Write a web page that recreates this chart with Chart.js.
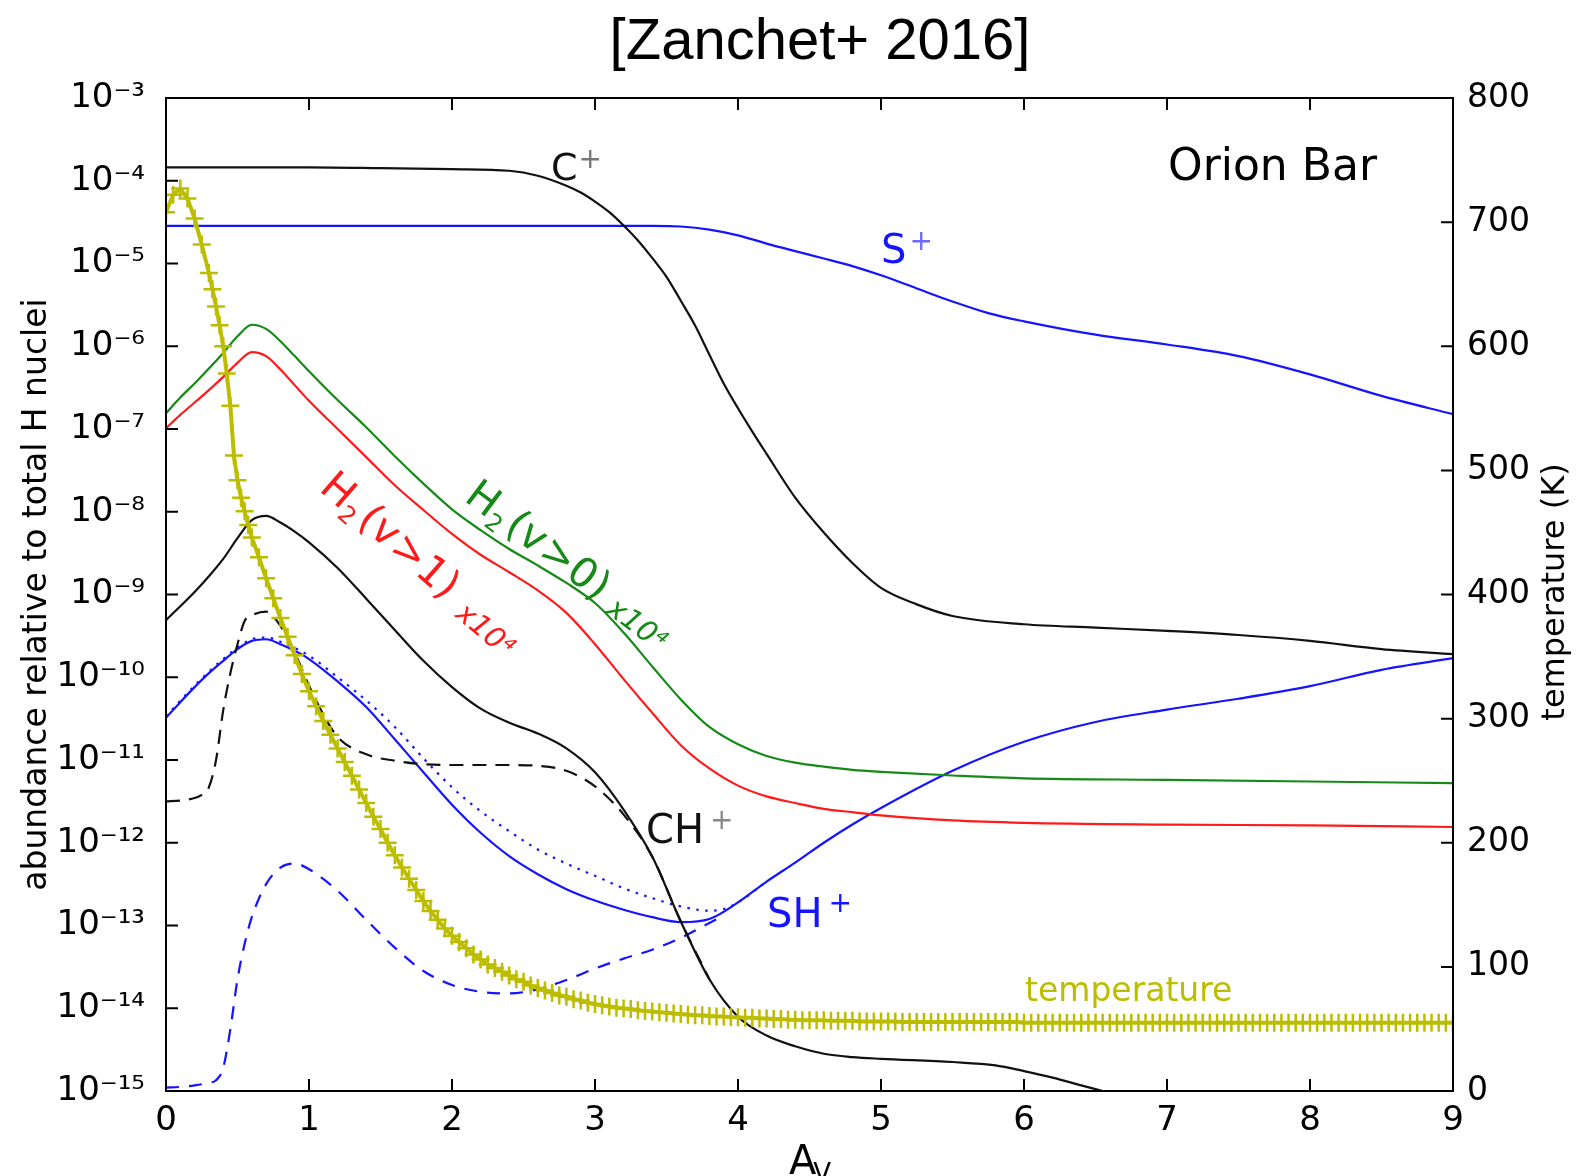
<!DOCTYPE html>
<html>
<head>
<meta charset="utf-8">
<script src="https://cdn.jsdelivr.net/npm/chart.js@4.4.1/dist/chart.umd.min.js"></script>
<style>
  html, body { margin: 0; padding: 0; background: #fff; }
  #wrap { width: 1593px; height: 1176px; }
</style>
</head>
<body>
<div id="wrap"><canvas id="chart"></canvas></div>
<script>
// tick labels
const xTicks = [0, 1, 2, 3, 4, 5, 6, 7, 8, 9];
const yTickExponents = [-15, -14, -13, -12, -11, -10, -9, -8, -7, -6, -5, -4, -3];
const tempTicks = [0, 100, 200, 300, 400, 500, 600, 700, 800];

// C+ (black solid)
const cPlusAv = [0, 0.5, 1, 1.5, 2, 2.4, 2.6, 2.8, 2.9, 3, 3.1, 3.2, 3.3, 3.4, 3.5, 3.6, 3.7, 3.8, 3.9, 4, 4.1, 4.2, 4.4, 4.6, 4.8, 5, 5.25, 5.5, 6, 6.5, 7, 7.5, 8, 8.5, 9];
const cPlus = [1.45e-4, 1.45e-4, 1.45e-4, 1.42e-4, 1.38e-4, 1.32e-4, 1.15e-4, 8.7e-5, 7.2e-5, 5.6e-5, 4.17e-5, 2.88e-5, 1.9e-5, 1.17e-5, 6.9e-6, 3.55e-6, 1.78e-6, 7.9e-7, 3.55e-7, 1.78e-7, 9.3e-8, 5.0e-8, 1.48e-8, 5.6e-9, 2.4e-9, 1.2e-9, 7.6e-10, 5.5e-10, 4.37e-10, 3.98e-10, 3.63e-10, 3.24e-10, 2.75e-10, 2.19e-10, 1.9e-10];

// S+ (blue solid)
const sPlusAv = [0, 1, 2, 3, 3.4, 3.6, 3.8, 4, 4.2, 4.4, 4.6, 4.8, 5, 5.25, 5.5, 5.75, 6, 6.5, 7, 7.5, 8, 8.5, 9];
const sPlus = [2.85e-5, 2.85e-5, 2.85e-5, 2.85e-5, 2.85e-5, 2.8e-5, 2.57e-5, 2.19e-5, 1.74e-5, 1.41e-5, 1.15e-5, 9.3e-6, 7.2e-6, 5.0e-6, 3.47e-6, 2.51e-6, 2.0e-6, 1.38e-6, 1.05e-6, 7.6e-7, 4.57e-7, 2.51e-7, 1.51e-7];

// H2(v>0) x1e4 (green) and H2(v>1) x1e4 (red)
const h2Av = [0, 0.1, 0.2, 0.3, 0.4, 0.5, 0.6, 0.7, 0.8, 0.9, 1, 1.2, 1.4, 1.6, 1.8, 2, 2.2, 2.4, 2.6, 2.8, 3, 3.2, 3.4, 3.6, 3.8, 4, 4.2, 4.4, 4.6, 4.8, 5, 5.5, 6, 7, 8, 9];
const h2v0 = [1.55e-7, 2.4e-7, 3.55e-7, 5.37e-7, 8.3e-7, 1.32e-6, 1.82e-6, 1.62e-6, 1.15e-6, 7.6e-7, 5.0e-7, 2.24e-7, 1.05e-7, 4.68e-8, 2.19e-8, 1.07e-8, 6.0e-9, 3.55e-9, 2.24e-9, 1.38e-9, 7.9e-10, 3.47e-10, 1.35e-10, 5.4e-11, 2.51e-11, 1.55e-11, 1.12e-11, 9.3e-12, 8.3e-12, 7.6e-12, 7.2e-12, 6.5e-12, 6.0e-12, 5.75e-12, 5.5e-12, 5.25e-12];
const h2v1 = [1.02e-7, 1.48e-7, 2.09e-7, 2.95e-7, 4.27e-7, 6.3e-7, 8.5e-7, 7.6e-7, 5.25e-7, 3.39e-7, 2.19e-7, 1.0e-7, 4.57e-8, 2.09e-8, 1.05e-8, 5.4e-9, 3.02e-9, 1.86e-9, 1.12e-9, 6.0e-10, 2.51e-10, 9.5e-11, 3.72e-11, 1.51e-11, 7.9e-12, 4.9e-12, 3.63e-12, 3.02e-12, 2.57e-12, 2.34e-12, 2.14e-12, 1.86e-12, 1.74e-12, 1.66e-12, 1.62e-12, 1.55e-12];

// CH+ (black solid) and second model (black dashed)
const chPlusAv = [0, 0.1, 0.2, 0.3, 0.4, 0.5, 0.6, 0.7, 0.8, 0.9, 1, 1.2, 1.4, 1.6, 1.8, 2, 2.2, 2.4, 2.6, 2.8, 3, 3.2, 3.4, 3.6, 3.8, 4, 4.2, 4.4, 4.6, 4.8, 5, 5.5, 5.8, 6, 6.2, 6.4, 6.55];
const chPlus = [4.9e-10, 7.2e-10, 1.07e-9, 1.66e-9, 2.69e-9, 4.79e-9, 7.9e-9, 8.9e-9, 7.4e-9, 5.75e-9, 4.27e-9, 2.09e-9, 8.9e-10, 3.72e-10, 1.58e-10, 7.6e-11, 4.17e-11, 2.82e-11, 2.09e-11, 1.38e-11, 7.1e-12, 2.51e-12, 6.8e-13, 1.12e-13, 2.24e-14, 7.9e-15, 4.68e-15, 3.47e-15, 2.82e-15, 2.57e-15, 2.45e-15, 2.24e-15, 2.04e-15, 1.74e-15, 1.45e-15, 1.17e-15, 1.0e-15];
const chDashAv = [0, 0.1, 0.2, 0.25, 0.3, 0.35, 0.4, 0.45, 0.5, 0.55, 0.6, 0.7, 0.8, 0.9, 1.0, 1.1, 1.2, 1.4, 1.6, 1.8, 2.0, 2.4, 2.6, 2.8, 3.0, 3.2, 3.4, 3.6, 3.8];
const chDash = [3.16e-12, 3.24e-12, 3.47e-12, 3.8e-12, 4.68e-12, 1.0e-11, 3.98e-11, 1.12e-10, 2.51e-10, 4.79e-10, 5.6e-10, 6.2e-10, 4.17e-10, 2.0e-10, 7.9e-11, 3.55e-11, 1.9e-11, 1.17e-11, 9.8e-12, 8.9e-12, 8.7e-12, 8.7e-12, 8.5e-12, 7.4e-12, 4.8e-12, 2.19e-12, 6.8e-13, 1.12e-13, 2.24e-14];

// SH+ (blue solid, dotted, dashed)
const shPlusAv = [0, 0.1, 0.2, 0.3, 0.4, 0.5, 0.6, 0.7, 0.8, 0.9, 1, 1.2, 1.4, 1.6, 1.8, 2, 2.2, 2.4, 2.6, 2.8, 3, 3.2, 3.4, 3.6, 3.8, 4, 4.2, 4.4, 4.6, 4.8, 5, 5.5, 6, 6.5, 7, 7.5, 8, 8.5, 9];
const shPlus = [3.24e-11, 5.0e-11, 7.6e-11, 1.12e-10, 1.58e-10, 2.19e-10, 2.75e-10, 2.88e-10, 2.51e-10, 2.09e-10, 1.66e-10, 8.9e-11, 4.37e-11, 1.78e-11, 7.1e-12, 2.88e-12, 1.32e-12, 6.9e-13, 4.17e-13, 2.75e-13, 2.0e-13, 1.55e-13, 1.26e-13, 1.1e-13, 1.2e-13, 1.9e-13, 3.39e-13, 5.75e-13, 1.0e-12, 1.66e-12, 2.63e-12, 7.4e-12, 1.66e-11, 2.88e-11, 4.07e-11, 5.5e-11, 7.8e-11, 1.23e-10, 1.7e-10];
const shDotAv = [0, 0.2, 0.4, 0.6, 0.7, 0.8, 1.0, 1.2, 1.4, 1.6, 1.8, 2.0, 2.2, 2.4, 2.6, 2.8, 3.0, 3.2, 3.4, 3.6, 3.8, 3.9, 4.0, 4.2];
const shDot = [3.39e-11, 7.9e-11, 1.66e-10, 2.88e-10, 3.02e-10, 2.69e-10, 1.82e-10, 1.0e-10, 5.25e-11, 2.51e-11, 1.05e-11, 4.68e-12, 2.4e-12, 1.38e-12, 8.3e-13, 5.6e-13, 3.98e-13, 2.82e-13, 2.14e-13, 1.7e-13, 1.51e-13, 1.58e-13, 1.9e-13, 3.39e-13];
const shDashAv = [0, 0.1, 0.2, 0.3, 0.35, 0.4, 0.45, 0.5, 0.55, 0.6, 0.7, 0.8, 0.9, 1.0, 1.2, 1.4, 1.6, 1.8, 2.0, 2.2, 2.4, 2.6, 2.8, 3.0, 3.2, 3.4, 3.6, 3.8, 3.9];
const shDash = [1.1e-15, 1.12e-15, 1.17e-15, 1.26e-15, 1.35e-15, 1.9e-15, 5.6e-15, 2.24e-14, 6.0e-14, 1.26e-13, 3.16e-13, 5.0e-13, 5.6e-13, 4.79e-13, 2.63e-13, 1.17e-13, 5.4e-14, 2.82e-14, 1.91e-14, 1.58e-14, 1.51e-14, 1.7e-14, 2.19e-14, 3.02e-14, 3.98e-14, 5.1e-14, 7.1e-14, 1.07e-13, 1.32e-13];

// temperature (K), right axis
const tempAv = [0, 0.05, 0.1, 0.15, 0.2, 0.25, 0.3, 0.325, 0.35, 0.375, 0.4, 0.425, 0.45, 0.475, 0.5, 0.525, 0.55, 0.575, 0.6, 0.65, 0.7, 0.75, 0.8, 0.85, 0.9, 0.95,
  1, 1.05, 1.1, 1.15, 1.2, 1.25, 1.3, 1.35, 1.4, 1.45, 1.5, 1.55, 1.6, 1.65, 1.7, 1.75, 1.8, 1.85, 1.9, 1.95,
  2, 2.05, 2.1, 2.15, 2.2, 2.25, 2.3, 2.35, 2.4, 2.45, 2.5, 2.55, 2.6, 2.65, 2.7, 2.75, 2.8, 2.85, 2.9, 2.95,
  3, 3.05, 3.1, 3.15, 3.2, 3.25, 3.3, 3.35, 3.4, 3.45, 3.5, 3.55, 3.6, 3.65, 3.7, 3.75, 3.8, 3.85, 3.9, 3.95,
  4, 4.05, 4.1, 4.15, 4.2, 4.25, 4.3, 4.35, 4.4, 4.45, 4.5, 4.55, 4.6, 4.65, 4.7, 4.75, 4.8, 4.85, 4.9, 4.95,
  5, 5.05, 5.1, 5.15, 5.2, 5.25, 5.3, 5.35, 5.4, 5.45, 5.5, 5.55, 5.6, 5.65, 5.7, 5.75, 5.8, 5.85, 5.9, 5.95,
  6, 6.05, 6.1, 6.15, 6.2, 6.25, 6.3, 6.35, 6.4, 6.45, 6.5, 6.55, 6.6, 6.65, 6.7, 6.75, 6.8, 6.85, 6.9, 6.95,
  7, 7.05, 7.1, 7.15, 7.2, 7.25, 7.3, 7.35, 7.4, 7.45, 7.5, 7.55, 7.6, 7.65, 7.7, 7.75, 7.8, 7.85, 7.9, 7.95,
  8, 8.05, 8.1, 8.15, 8.2, 8.25, 8.3, 8.35, 8.4, 8.45, 8.5, 8.55, 8.6, 8.65, 8.7, 8.75, 8.8, 8.85, 8.9, 8.95, 9];
const tempK = [708, 722, 727, 719, 703, 682, 659, 646, 632, 617, 600, 578, 552, 512, 492, 478, 467, 456, 446, 430, 413, 397, 381, 366, 351, 336,
  322, 310, 298, 287, 276, 265, 254, 243, 232, 221, 211, 200, 190, 180, 171, 162, 153, 145, 138, 131,
  125, 120, 115, 110, 106, 102, 99, 96, 93, 90, 88, 85, 83, 81, 79, 77, 76, 74, 73, 71,
  70, 69, 68, 67, 66.5, 66, 65, 64.5, 64, 63.5, 63, 62.5, 62, 61.5, 61, 61, 60.5, 60, 60, 59.5,
  59.5, 59, 59, 58.5, 58.5, 58, 58, 57.5, 57.5, 57, 57, 57, 57, 56.5, 56.5, 56.5, 56.5, 56, 56, 56,
  56, 56, 56, 55.5, 55.5, 55.5, 55.5, 55.5, 55.5, 55.5, 55.5, 55.5, 55.5, 55.5, 55.5, 55.5, 55.5, 55.5, 55.5, 55.5,
  55, 55, 55, 55, 55, 55, 55, 55, 55, 55, 55, 55, 55, 55, 55, 55, 55, 55, 55, 55,
  55, 55, 55, 55, 55, 55, 55, 55, 55, 55, 55, 55, 55, 55, 55, 55, 55, 55, 55, 55,
  55, 55, 55, 55, 55, 55, 55, 55, 55, 55, 55, 55, 55, 55, 55, 55, 55, 55, 55, 55, 55];

const BLACK = '#111111';
const BLUE = '#1414ff';
const GREEN = '#168a16';
const RED = '#ff1a1a';
const OLIVE = '#bdbd00';
const FONT = '"DejaVu Sans"';

const SUP = {'-': '\u207B', '0': '\u2070', '1': '\u00B9', '2': '\u00B2', '3': '\u00B3', '4': '\u2074',
  '5': '\u2075', '6': '\u2076', '7': '\u2077', '8': '\u2078', '9': '\u2079'};

function pts(xs, ys) {
  return xs.map((x, i) => ({x: x, y: ys[i]}));
}

function curve(data, color, dash) {
  return {
    data: data,
    borderColor: color,
    borderWidth: 2.2,
    borderDash: dash || [],
    pointRadius: 0,
    cubicInterpolationMode: 'monotone',
    yAxisID: 'y',
    order: 1
  };
}

// draw a label made of pieces, optionally rotated
function pieces(ctx, x, y, angle, parts) {
  ctx.save();
  ctx.translate(x, y);
  ctx.rotate(angle * Math.PI / 180);
  let cx = 0;
  parts.forEach(p => {
    ctx.font = p.font;
    ctx.fillStyle = p.color;
    cx += p.gap || 0;
    ctx.fillText(p.t, cx, p.dy || 0);
    cx += ctx.measureText(p.t).width;
  });
  ctx.restore();
}

const decorations = {
  id: 'decorations',
  afterDraw(chart) {
    const {ctx, chartArea: a, scales} = chart;
    ctx.save();
    ctx.textAlign = 'left';
    ctx.textBaseline = 'alphabetic';

    // inward tick marks and frame
    ctx.strokeStyle = '#000';
    ctx.lineWidth = 2;
    ctx.beginPath();
    scales.x.ticks.forEach(t => {
      const px = scales.x.getPixelForValue(t.value);
      ctx.moveTo(px, a.bottom); ctx.lineTo(px, a.bottom - 12);
      ctx.moveTo(px, a.top); ctx.lineTo(px, a.top + 12);
    });
    scales.y.ticks.forEach(t => {
      const py = scales.y.getPixelForValue(t.value);
      ctx.moveTo(a.left, py); ctx.lineTo(a.left + 12, py);
    });
    scales.y2.ticks.forEach(t => {
      const py = scales.y2.getPixelForValue(t.value);
      ctx.moveTo(a.right, py); ctx.lineTo(a.right - 12, py);
    });
    ctx.stroke();
    ctx.strokeRect(a.left, a.top, a.right - a.left, a.bottom - a.top);

    // title
    ctx.fillStyle = '#000';
    ctx.font = '58px "Liberation Sans"';
    ctx.textAlign = 'center';
    ctx.fillText('[Zanchet+ 2016]', 820, 59);

    // right axis title
    ctx.save();
    ctx.translate(1556, 592);
    ctx.rotate(-Math.PI / 2);
    ctx.font = '32px ' + FONT;
    ctx.textBaseline = 'middle';
    ctx.fillText('temperature (K)', 0, 0);
    ctx.restore();
    ctx.textAlign = 'left';

    // x axis title A_V
    pieces(ctx, 789, 1174, 0, [
      {t: 'A', font: '40px ' + FONT, color: '#000'},
      {t: 'V', font: '26px ' + FONT, color: '#000', dy: 8, gap: -3}
    ]);

    // species labels
    pieces(ctx, 551, 180, 0, [
      {t: 'C', font: '38px ' + FONT, color: BLACK},
      {t: '+', font: '28px ' + FONT, color: '#777', dy: -12, gap: 1}
    ]);
    pieces(ctx, 1168, 180, 0, [{t: 'Orion Bar', font: '44px ' + FONT, color: '#000'}]);
    pieces(ctx, 881, 263, 0, [
      {t: 'S', font: '40px ' + FONT, color: BLUE},
      {t: '+', font: '28px ' + FONT, color: '#6a6aff', dy: -13, gap: 3}
    ]);
    pieces(ctx, 646, 843, 0, [
      {t: 'CH', font: '40px ' + FONT, color: BLACK},
      {t: '+', font: '28px ' + FONT, color: '#888', dy: -14, gap: 6}
    ]);
    pieces(ctx, 767, 927, 0, [
      {t: 'SH', font: '40px ' + FONT, color: BLUE},
      {t: '+', font: '28px ' + FONT, color: BLUE, dy: -15, gap: 6}
    ]);
    pieces(ctx, 1025, 1001, 0, [{t: 'temperature', font: '33px ' + FONT, color: OLIVE}]);

    // H2 labels along the curves
    pieces(ctx, 463, 500, 37, [
      {t: 'H', font: '41px ' + FONT, color: GREEN},
      {t: '2', font: '24px ' + FONT, color: GREEN, dy: 8},
      {t: '(v', font: '41px ' + FONT, color: GREEN, gap: 4},
      {t: '>', font: '41px ' + FONT, color: GREEN, gap: 2},
      {t: '0)', font: '41px ' + FONT, color: GREEN}
    ]);
    pieces(ctx, 605, 612, 37, [{t: 'x10\u2074', font: 'italic 29px ' + FONT, color: GREEN}]);
    pieces(ctx, 318, 490, 41, [
      {t: 'H', font: '41px ' + FONT, color: RED},
      {t: '2', font: '24px ' + FONT, color: RED, dy: 8},
      {t: '(v', font: '41px ' + FONT, color: RED, gap: 4},
      {t: '>', font: '41px ' + FONT, color: RED, gap: 2},
      {t: '1)', font: '41px ' + FONT, color: RED}
    ]);
    pieces(ctx, 454, 616, 40, [{t: 'x10\u2074', font: 'italic 29px ' + FONT, color: RED}]);

    ctx.restore();
  }
};

Chart.defaults.font.family = FONT;
Chart.defaults.color = '#000';

new Chart(document.getElementById('chart'), {
  type: 'line',
  data: {
    datasets: [
      {
        data: pts(tempAv, tempK),
        yAxisID: 'y2',
        borderColor: OLIVE,
        borderWidth: 4,
        pointStyle: 'cross',
        pointRadius: 9,
        pointBorderWidth: 2.5,
        pointBorderColor: OLIVE,
        pointBackgroundColor: OLIVE,
        tension: 0,
        order: 0
      },
      curve(pts(cPlusAv, cPlus), BLACK),
      curve(pts(sPlusAv, sPlus), BLUE),
      curve(pts(h2Av, h2v0), GREEN),
      curve(pts(h2Av, h2v1), RED),
      curve(pts(chPlusAv, chPlus), BLACK),
      curve(pts(chDashAv, chDash), BLACK, [14, 9]),
      curve(pts(shPlusAv, shPlus), BLUE),
      curve(pts(shDotAv, shDot), BLUE, [2.5, 6.5]),
      curve(pts(shDashAv, shDash), BLUE, [13, 10])
    ]
  },
  options: {
    responsive: true,
    maintainAspectRatio: false,
    animation: false,
    layout: { padding: { top: 98, left: 0, right: 0, bottom: 0 } },
    plugins: {
      legend: { display: false },
      tooltip: { enabled: false }
    },
    scales: {
      x: {
        type: 'linear',
        min: 0,
        max: 9,
        grid: { display: false, drawTicks: false },
        border: { display: false },
        afterBuildTicks: s => { s.ticks = xTicks.map(v => ({value: v})); },
        afterFit: s => { s.height = 85; },
        ticks: { font: { size: 34 }, padding: 10, maxRotation: 0, autoSkip: false }
      },
      y: {
        type: 'logarithmic',
        position: 'left',
        min: 1e-15,
        max: 1e-3,
        grid: { display: false, drawTicks: false },
        border: { display: false },
        afterBuildTicks: s => { s.ticks = yTickExponents.map(e => ({value: Math.pow(10, e)})); },
        afterFit: s => { s.width = 166; },
        ticks: {
          font: { size: 34 },
          padding: 21,
          autoSkip: false,
          callback: v => {
            const e = Math.round(Math.log10(v));
            return '10' + String(e).split('').map(c => SUP[c]).join('');
          }
        },
        title: {
          display: true,
          text: 'abundance relative to total H nuclei',
          font: { size: 33 },
          padding: { top: 18, bottom: 0 }
        }
      },
      y2: {
        type: 'linear',
        position: 'right',
        min: 0,
        max: 800,
        grid: { display: false, drawTicks: false },
        border: { display: false },
        afterBuildTicks: s => { s.ticks = tempTicks.map(v => ({value: v})); },
        afterFit: s => { s.width = 140; },
        ticks: { font: { size: 33 }, padding: 14, autoSkip: false }
      }
    }
  },
  plugins: [decorations]
});
</script>
</body>
</html>
